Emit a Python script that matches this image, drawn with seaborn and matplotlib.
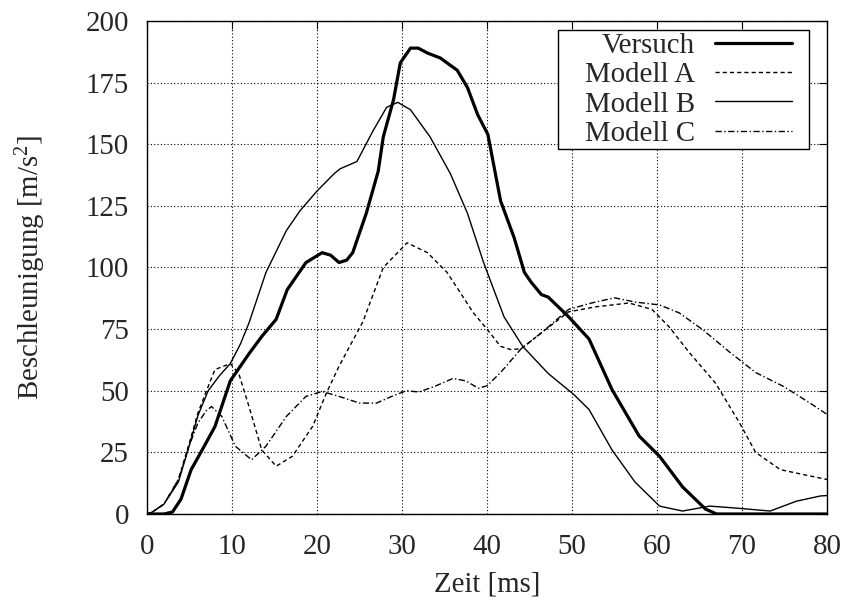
import numpy as np
import pandas as pd
import matplotlib
matplotlib.use("Agg")
import matplotlib.pyplot as plt
from matplotlib.path import Path
import seaborn as sns

# values (time in ms, acceleration in m/s^2)
versuch_t = [0, 2, 3, 4, 5.2, 6.5, 8, 9.8, 12, 13.5, 15.2, 16.5, 18.7, 20.6,
             21.6, 22.6, 23.5, 24.2, 25.8, 27.2, 27.8, 29, 29.8, 31, 31.9,
             33, 34.5, 36.5, 37.7, 38.9, 40.1, 41.6, 43.2, 44.4, 45.2, 46.4,
             47.2, 49.6, 52, 54.7, 57.9, 60.3, 63, 65.7, 67, 80]
versuch_v = [0, 0, 0.8, 6, 18, 26, 35.5, 54, 65, 72, 79, 91, 102, 106,
             105, 102, 103, 106, 122, 139, 153, 168, 183, 189, 189,
             187, 185, 180, 173, 162, 154, 127, 112, 98, 94, 89,
             88, 80, 71, 50.5, 31.6, 23.4, 11, 2, 0, 0]

modell_a_t = [0, 0.5, 2, 3.7, 5, 6, 7, 8, 9.8, 10.8, 12, 13.5, 15.2, 17.1,
              19.5, 21.1, 22.6, 25.4, 27.8, 30.6, 33, 35.3, 38.4, 40, 41.6,
              42.8, 44, 46.4, 49.6, 52.7, 56.7, 59.4, 61.4, 63.8, 66.9, 69.7,
              71.6, 74.5, 77.2, 80]
modell_a_v = [0, 0.5, 4, 14, 29, 41, 50, 58.6, 61, 57, 43.6, 26, 19.4, 23.4,
              35.6, 49, 60, 78, 100, 110, 106, 98, 81.6, 75, 68,
              66.7, 67, 73.5, 82, 84, 85.6, 83, 76, 65.5, 53, 37,
              25, 18, 16, 14]

modell_b_t = [0, 0.5, 2, 3.7, 5, 6, 7.2, 8.5, 9.8, 11, 12, 14, 16.4, 18, 20,
              22, 22.7, 24.7, 26.6, 28.2, 29.5, 31, 33.3, 35.7, 37.7, 39.6,
              42, 44.2, 47.2, 50.2, 52, 54.7, 57.4, 60.3, 63, 66.2, 69.3,
              73.3, 76.4, 79.2, 80]
modell_b_v = [0, 0.5, 4, 13, 28, 40, 50, 56, 61, 69, 77.5, 98, 115, 123, 131,
              138, 140, 143, 155.5, 165, 167, 164, 153, 138, 122, 102,
              80, 68, 57, 48.5, 42.4, 26, 13, 3.2, 1.2, 3.2, 2.4,
              1.2, 5.2, 7.3, 7.5]

modell_c_t = [0, 0.5, 2, 3.7, 5, 6, 7, 7.6, 8.8, 10.4, 12.3, 14, 16.4, 18.7,
              20.6, 22.6, 25, 27, 29, 30.5, 32, 34, 36, 37.5, 39, 40, 41.6,
              44, 46.4, 49.6, 52.3, 55, 57.4, 60.3, 62.6, 65.4, 68.6, 71.6,
              74.9, 78, 80]
modell_c_v = [0, 0.5, 4, 14, 28, 37, 42, 43.6, 39.6, 27.5, 22, 27.5, 39.6, 47.7,
              49.7, 47.7, 45, 45, 48, 50, 49.5, 52, 55, 54, 51, 52, 57.4,
              67, 73.5, 83, 85.6, 87.7, 86, 84.8, 81.6, 74.7, 65.5, 57.4,
              51.7, 45, 40.4]

x_ticks = [0, 10, 20, 30, 40, 50, 60, 70, 80]
y_ticks = [0, 25, 50, 75, 100, 125, 150, 175, 200]

FS = 20.8

sns.set_theme(style="white")
plt.rcParams["font.family"] = ["Liberation Serif", "DejaVu Serif"]
plt.rcParams["mathtext.fontset"] = "custom"
plt.rcParams["mathtext.rm"] = "Liberation Serif"
plt.rcParams["mathtext.it"] = "Liberation Serif:italic"

fig = plt.figure(figsize=(8.48, 6.03), dpi=100)
ax = fig.add_axes([0.1733, 0.1476, 0.802, 0.8176])

series = [
    ("Versuch", versuch_t, versuch_v, "-", 2.3),
    ("Modell A", modell_a_t, modell_a_v, (0, (3.0, 2.2)), 1.0),
    ("Modell B", modell_b_t, modell_b_v, "-", 1.0),
    ("Modell C", modell_c_t, modell_c_v, (0, (4.5, 1.8, 1, 1.8)), 1.0),
]

for name, t, v, ls, lw in series:
    df = pd.DataFrame({"t": t, "v": v})
    sns.lineplot(
        data=df,
        x="t",
        y="v",
        color="black",
        linewidth=lw,
        linestyle=ls,
        estimator=None,
        label=name,
        ax=ax
    )

ax.set_xlim(0, 80)
ax.set_ylim(0, 200)
ax.set_xticks(x_ticks)
ax.set_yticks(y_ticks)

ax.grid(True, color="black", linestyle=(0, (1, 2)), linewidth=0.8)

for s in ax.spines.values():
    s.set_color("black")
    s.set_linewidth(1.0)

ax.tick_params(
    axis="both",
    direction="in",
    length=6,
    width=0.8,
    color="black",
    top=True,
    right=True,
    labelsize=FS
)
ax.tick_params(axis="x", pad=14.5)
ax.tick_params(axis="y", pad=13)

ax.set_xlabel("Zeit [ms]", fontsize=FS, labelpad=8)
ax.set_ylabel("Beschleunigung [m/s$^{2}$]", fontsize=FS, labelpad=27)


# gnuplot-like key box: wide on the sides, tight on top and bottom
def key_box(x0, y0, width, height, mutation_size):
    left = 0.93 * mutation_size
    right = 0.59 * mutation_size
    tb = 0.08 * mutation_size
    xa, xb = x0 - left, x0 + width + right
    ya, yb = y0 - tb, y0 + height + tb
    return Path(
        [(xa, ya), (xb, ya), (xb, yb), (xa, yb), (xa, ya)],
        closed=True
    )


leg = ax.legend(
    loc="upper right",
    bbox_to_anchor=(0.9485, 0.9765),
    borderaxespad=0,
    markerfirst=False,
    frameon=True,
    fancybox=False,
    framealpha=1,
    edgecolor="black",
    handlelength=2.66,
    handletextpad=0.7,
    labelspacing=0.11,
    borderpad=0.0,
    fontsize=FS
)
leg.get_frame().set_boxstyle(key_box)
leg.get_frame().set_linewidth(1.0)

plt.savefig("out.png", dpi=100)
plt.close()
